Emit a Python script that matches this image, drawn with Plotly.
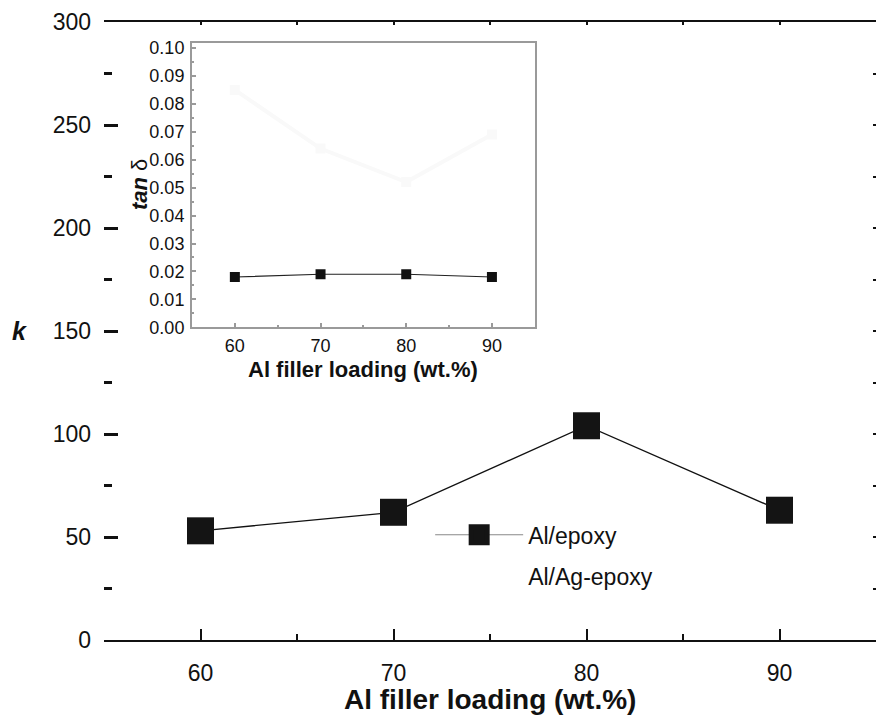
import plotly.graph_objects as go

# Main chart data: dielectric constant k vs Al filler loading
loading = [60, 70, 80, 90]
k_al_epoxy = [53, 62, 104, 63]

# Inset data: tan delta
tan_al_epoxy = [0.018, 0.019, 0.019, 0.018]
tan_al_ag_epoxy = [0.085, 0.064, 0.052, 0.069]  # very faint in the reference

series_names = ["Al/epoxy", "Al/Ag-epoxy"]
main_y_ticks = [0, 50, 100, 150, 200, 250, 300]
inset_y_ticks = [0.00, 0.01, 0.02, 0.03, 0.04, 0.05, 0.06, 0.07, 0.08, 0.09, 0.10]

FONT = "Arial, Liberation Sans, Helvetica, sans-serif"

fig = go.Figure()

# Main series
fig.add_trace(go.Scatter(
    x=loading, y=k_al_epoxy, mode="lines+markers", name=series_names[0],
    line=dict(color="#111111", width=1.3),
    marker=dict(symbol="square", size=27, color="#141414"),
    xaxis="x", yaxis="y", showlegend=False,
))

# Inset series
fig.add_trace(go.Scatter(
    x=loading, y=tan_al_epoxy, mode="lines+markers", name=series_names[0],
    line=dict(color="#222222", width=1.2),
    marker=dict(symbol="square", size=10, color="#111111"),
    xaxis="x3", yaxis="y3", showlegend=False,
))
fig.add_trace(go.Scatter(
    x=loading, y=tan_al_ag_epoxy, mode="lines+markers", name=series_names[1],
    line=dict(color="#f9f9f9", width=4),
    marker=dict(symbol="square", size=10, color="#f9f9f9"),
    xaxis="x3", yaxis="y3", showlegend=False,
))

# Legend entries (no data drawn)
fig.add_trace(go.Scatter(
    x=[None], y=[None], mode="lines+markers", name=series_names[0],
    line=dict(color="#888888", width=1),
    marker=dict(symbol="square", size=24, color="#141414",
                line=dict(color="#141414", width=5)),
    legendgroup="a", showlegend=True,
))
fig.add_trace(go.Scatter(
    x=[None], y=[None], mode="lines+markers", name=series_names[1],
    line=dict(color="rgba(255,255,255,0)", width=1),
    marker=dict(symbol="square", size=24, color="rgba(255,255,255,0)"),
    legendgroup="b", showlegend=True,
))

# Invisible helper trace for top / right frame axes
fig.add_trace(go.Scatter(
    x=[loading[0]], y=[main_y_ticks[0]], mode="markers",
    marker=dict(size=1, color="rgba(0,0,0,0)"),
    xaxis="x2", yaxis="y2", showlegend=False, hoverinfo="skip",
))

fig.update_layout(
    width=878, height=720,
    margin=dict(l=104, r=2, t=22, b=80),
    paper_bgcolor="white", plot_bgcolor="white",
    font=dict(family=FONT, color="#111111", size=22),
    showlegend=True,
    legend=dict(
        x=0.4225, y=0.205, xanchor="left", yanchor="top",
        bgcolor="rgba(0,0,0,0)", borderwidth=0,
        font=dict(size=23, family=FONT, color="#111111"),
        itemwidth=88, itemsizing="trace", tracegroupgap=8,
    ),
    xaxis=dict(
        range=[55, 95], tickvals=loading, ticktext=[str(v) for v in loading],
        showline=True, linecolor="#111111", linewidth=1.5,
        ticks="inside", ticklen=11, tickwidth=2, tickcolor="#111111",
        minor=dict(dtick=5, tick0=55, ticks="inside", ticklen=6, tickwidth=2, tickcolor="#111111"),
        showgrid=False, zeroline=False, ticklabelstandoff=12,
        tickfont=dict(size=23),
    ),
    yaxis=dict(
        range=[0, 300], tickvals=main_y_ticks,
        showline=False, ticks="inside", ticklen=14, tickwidth=3, tickcolor="#111111",
        minor=dict(dtick=25, tick0=0, ticks="inside", ticklen=8, tickwidth=3, tickcolor="#111111"),
        showgrid=False, zeroline=False, ticklabelstandoff=12,
        tickfont=dict(size=23),
    ),
    xaxis2=dict(
        overlaying="x", side="top", range=[55, 95], dtick=5, tick0=55,
        showline=True, linecolor="#111111", linewidth=1.5,
        ticks="inside", ticklen=3, tickwidth=2, tickcolor="#111111",
        showticklabels=False, showgrid=False, zeroline=False,
    ),
    yaxis2=dict(
        overlaying="y", side="right", range=[0, 300], dtick=25, tick0=0,
        showline=False, ticks="inside", ticklen=3, tickwidth=2, tickcolor="#111111",
        showticklabels=False, showgrid=False, zeroline=False,
    ),
    xaxis3=dict(
        domain=[0.114, 0.558], anchor="y3", range=[55, 95],
        tickvals=loading, ticktext=[str(v) for v in loading],
        showline=True, mirror=True, linecolor="#9a9a9a", linewidth=2,
        ticks="inside", ticklen=4, tickwidth=1.5, tickcolor="#9a9a9a",
        minor=dict(dtick=5, tick0=55, ticks="inside", ticklen=2, tickwidth=1.5, tickcolor="#9a9a9a"),
        showgrid=False, zeroline=False, ticklabelstandoff=1,
        tickfont=dict(size=18),
    ),
    yaxis3=dict(
        domain=[0.506, 0.966], anchor="x3", range=[0, 0.1018],
        tickvals=inset_y_ticks, tickformat=".2f",
        showline=True, mirror=True, linecolor="#9a9a9a", linewidth=2,
        ticks="inside", ticklen=4, tickwidth=1.5, tickcolor="#9a9a9a",
        minor=dict(dtick=0.005, tick0=0, ticks="inside", ticklen=2, tickwidth=1.5, tickcolor="#9a9a9a"),
        showgrid=False, zeroline=False, ticklabelstandoff=2,
        tickfont=dict(size=18),
    ),
    annotations=[
        dict(text="<b><i>k</i></b>", xref="paper", yref="y", x=-0.109, y=150,
             showarrow=False, font=dict(size=25), xanchor="center", yanchor="middle"),
        dict(text="<b>Al filler loading (wt.%)</b>", xref="paper", yref="paper",
             x=0.5, y=-0.097, showarrow=False, font=dict(size=28),
             xanchor="center", yanchor="middle"),
        dict(text="<b>Al filler loading (wt.%)</b>", xref="paper", yref="paper",
             x=0.336, y=0.437, showarrow=False, font=dict(size=22),
             xanchor="center", yanchor="middle"),
        dict(text="<b><i>tan</i></b> δ", xref="paper", yref="paper",
             x=0.046, y=0.737, showarrow=False, font=dict(size=22), textangle=-90,
             xanchor="center", yanchor="middle"),
    ],
)

fig.write_html("out.html")
